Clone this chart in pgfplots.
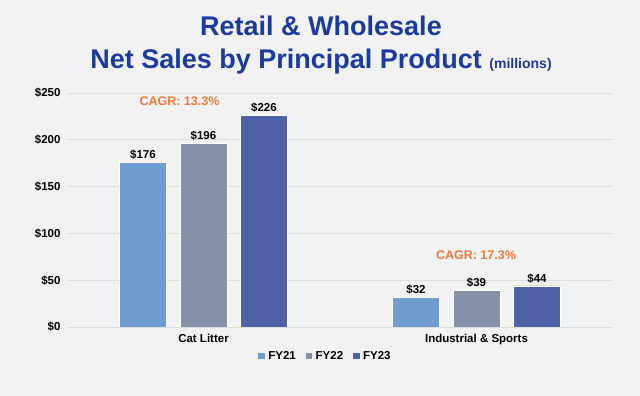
\documentclass[border=0pt]{standalone}
\usepackage{pgfplots}
\pgfplotsset{compat=1.18}
\usepackage{fontspec}
\setmainfont{Liberation Sans}
\definecolor{bg}{HTML}{F2F2F2}
\definecolor{cA}{HTML}{6F9DCF}
\definecolor{cB}{HTML}{8591A8}
\definecolor{cC}{HTML}{4F62A8}
\definecolor{ttl}{HTML}{1B3C9E}
\definecolor{org}{HTML}{F07A3A}
\definecolor{grd}{HTML}{DEDEDE}
\begin{document}
\begin{tikzpicture}
\fill[bg] (0,0) rectangle (640bp,396bp);
\useasboundingbox (0,0) rectangle (640bp,396bp);
\node[anchor=base,text=ttl,font=\fontsize{27bp}{30bp}\selectfont\bfseries,inner sep=0] at (321bp,360bp) {Retail \& Wholesale};
\node[anchor=base,text=ttl,font=\fontsize{27bp}{30bp}\selectfont\bfseries,inner sep=0] at (321bp,327.7bp) {Net Sales by Principal Product {\fontsize{14bp}{16bp}\selectfont (millions)}};
\begin{axis}[
  at={(67bp,69bp)}, anchor=south west,
  scale only axis, width=546bp, height=234bp,
  ybar=13.5bp, bar width=47bp,
  xmin=-0.5, xmax=1.5, ymin=0, ymax=250,
  xtick={0,1}, xticklabels={Cat Litter, Industrial \& Sports},
  ytick={0,50,100,150,200,250},
  yticklabel={\$\pgfmathprintnumber{\tick}},
  /pgf/number format/assume math mode=true,
  tick label style={font=\fontsize{11.5bp}{13bp}\selectfont\bfseries},
  xticklabel style={yshift=-4bp},
  yticklabel style={xshift=-3bp},
  major tick length=0pt,
  axis x line*=bottom, axis y line*=left,
  axis line style={draw=none},
  ymajorgrids, grid style={grd, line width=0.8bp},
  nodes near coords={\$\pgfmathprintnumber{\pgfplotspointmeta}},
  every node near coord/.append style={font=\fontsize{11.5bp}{13bp}\selectfont\bfseries, text=black, inner sep=2.5bp},
  legend columns=3,
  legend style={at={(0.4734,-0.124)}, anchor=center, draw=none, fill=none,
    font=\fontsize{11.5bp}{13bp}\selectfont\bfseries,
    /tikz/every odd column/.append style={column sep=1.5bp},
    /tikz/every even column/.append style={column sep=8bp}},
  legend image code/.code={\fill[#1,draw=none] (0bp,-3.2bp) rectangle (6.4bp,3.2bp);},
]
\addplot[fill=cA, draw=white, line width=0.5bp] coordinates {(0,176) (1,32)};
\addplot[fill=cB, draw=white, line width=0.5bp] coordinates {(0,196) (1,39)};
\addplot[fill=cC, draw=white, line width=0.5bp] coordinates {(0,226) (1,44)};
\legend{FY21,FY22,FY23}
\node[text=org, font=\fontsize{12.5bp}{14bp}\selectfont\bfseries] at (axis cs:-0.088,241.5) {CAGR: 13.3\%};
\node[text=org, font=\fontsize{12.5bp}{14bp}\selectfont\bfseries] at (axis cs:0.998,77) {CAGR: 17.3\%};
\end{axis}
\end{tikzpicture}
\end{document}
